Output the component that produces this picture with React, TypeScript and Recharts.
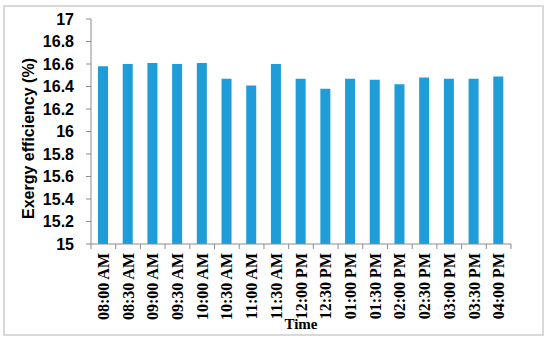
import { BarChart, Bar, XAxis, YAxis } from "recharts";

const C = {
  bar: "#1f9dd9",
  axis: "#8c8c8c",
  border: "#d9d9d9",
  text: "#000000",
};

const times = [
  "08:00 AM", "08:30 AM", "09:00 AM", "09:30 AM", "10:00 AM", "10:30 AM",
  "11:00 AM", "11:30 AM", "12:00 PM", "12:30 PM", "01:00 PM", "01:30 PM",
  "02:00 PM", "02:30 PM", "03:00 PM", "03:30 PM", "04:00 PM",
];

const exergy = [
  16.58, 16.6, 16.61, 16.6, 16.61, 16.47, 16.41, 16.6, 16.47, 16.38,
  16.47, 16.46, 16.42, 16.48, 16.47, 16.47, 16.49,
];

const yTicks = [15, 15.2, 15.4, 15.6, 15.8, 16, 16.2, 16.4, 16.6, 16.8, 17];

const data = times.map((t, i) => ({ time: t, value: exergy[i] }));

function TimeTick(props: any) {
  const { x, y, payload, index, visibleTicksCount } = props;
  const off = payload?.offset ?? 0;
  const isLast = index === visibleTicksCount - 1;
  return (
    <g>
      <line x1={x - off} y1={y} x2={x - off} y2={y + 5} stroke={C.axis} />
      {isLast && <line x1={x + off} y1={y} x2={x + off} y2={y + 5} stroke={C.axis} />}
      <text
        transform={`translate(${x},${y + 9}) rotate(-90)`}
        textAnchor="end"
        dy="0.35em"
        fontFamily="'Liberation Serif', serif"
        fontWeight="bold"
        fontSize={16}
        fill={C.text}
      >
        {payload.value}
      </text>
    </g>
  );
}

export default function App() {
  return (
    <div
      style={{
        position: "absolute",
        left: 0,
        top: 0,
        width: 550,
        height: 343,
        background: "#fff",
      }}
    >
      <div
        style={{
          position: "absolute",
          left: 3,
          top: 5,
          width: 541,
          height: 331,
          boxSizing: "border-box",
          border: `2px solid ${C.border}`,
        }}
      />
      <BarChart
        width={550}
        height={343}
        data={data}
        margin={{ top: 19, right: 39, left: 31, bottom: 0 }}
        style={{ position: "absolute", left: 0, top: 0 }}
      >
        <XAxis
          dataKey="time"
          height={99}
          interval={0}
          tickLine={false}
          tickSize={0}
          tickMargin={0}
          axisLine={{ stroke: C.axis }}
          tick={<TimeTick />}
          label={{
            content: ({ viewBox }: any) => (
              <text
                x={viewBox.x + viewBox.width / 2}
                y={329}
                textAnchor="middle"
                fontFamily="'Liberation Serif', serif"
                fontWeight="bold"
                fontSize={15}
                fill={C.text}
              >
                Time
              </text>
            ),
          }}
        />
        <YAxis
          width={60}
          domain={[15, 17]}
          ticks={yTicks}
          interval={0}
          tickSize={5}
          tickMargin={12}
          tickLine={{ stroke: C.axis }}
          axisLine={{ stroke: C.axis }}
          tickFormatter={(v: number) => String(Number(v.toFixed(1)))}
          tick={{
            fill: C.text,
            fontSize: 16,
            fontWeight: "bold",
            fontFamily: "'Liberation Sans', Arial, sans-serif",
          }}
          label={{
            content: ({ viewBox }: any) => (
              <text
                transform={`translate(28,${viewBox.y + viewBox.height / 2 + 7}) rotate(-90)`}
                textAnchor="middle"
                dy="0.35em"
                fontFamily="'Liberation Sans', Arial, sans-serif"
                fontWeight="bold"
                fontSize={16}
                fill={C.text}
              >
                Exergy efficiency (%)
              </text>
            ),
          }}
        />
        <Bar dataKey="value" fill={C.bar} barSize={10} isAnimationActive={false} />
      </BarChart>
    </div>
  );
}
